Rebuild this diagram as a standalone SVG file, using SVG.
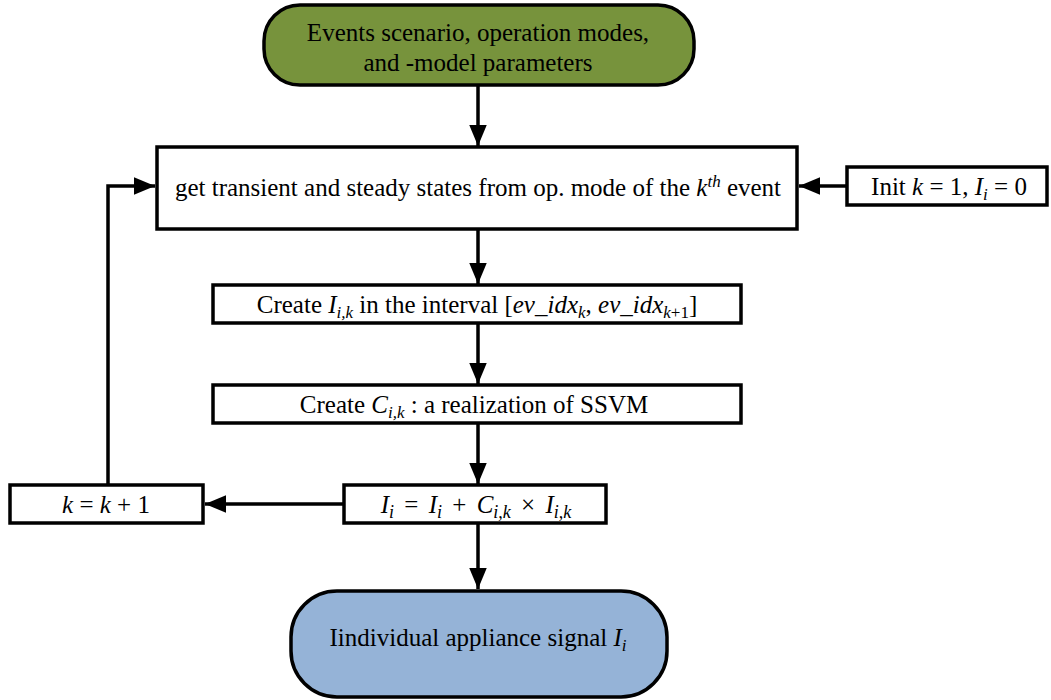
<svg xmlns="http://www.w3.org/2000/svg" width="1051" height="700" viewBox="0 0 1051 700">
<defs>
<marker id="ah" markerWidth="6" markerHeight="5" refX="6" refY="2.5" orient="auto" markerUnits="strokeWidth">
<path d="M0,0 L6,2.5 L0,5 Z" fill="#000"/>
</marker>
<style>
.box{fill:#fff;stroke:#000;stroke-width:3.5}
.t{font-family:"Liberation Serif","Times New Roman",serif;font-size:25px;fill:#000;text-anchor:middle}
.i{font-style:italic}
.s{font-size:17px}
.c{fill:none;stroke:#000;stroke-width:3.5}
</style>
</defs>
<g id="connectors">
<line class="c" x1="478" y1="86" x2="478" y2="146" marker-end="url(#ah)"/>
<line class="c" x1="846" y1="186" x2="799" y2="186" marker-end="url(#ah)"/>
<line class="c" x1="478" y1="230" x2="478" y2="284" marker-end="url(#ah)"/>
<line class="c" x1="478" y1="324" x2="478" y2="384" marker-end="url(#ah)"/>
<line class="c" x1="478" y1="424" x2="478" y2="484" marker-end="url(#ah)"/>
<line class="c" x1="343" y1="504" x2="205" y2="504" marker-end="url(#ah)"/>
<polyline class="c" points="108,485 108,186 155,186" marker-end="url(#ah)"/>
<line class="c" x1="478" y1="524" x2="478" y2="589" marker-end="url(#ah)"/>
</g>
<g id="start">
<rect x="264" y="5" width="430" height="80" rx="36" fill="#77933C" stroke="#000" stroke-width="3.5"/>
<text class="t" x="478" y="41">Events scenario, operation modes,</text>
<text class="t" x="478" y="71">and -model parameters</text>
</g>
<g id="get-states">
<rect class="box" x="157" y="147" width="640" height="82"/>
<text class="t" x="478" y="196">get transient and steady states from op. mode of the <tspan class="i">k</tspan><tspan class="i s" dy="-9">th</tspan><tspan dy="9"> event</tspan></text>
</g>
<g id="init">
<rect class="box" x="847" y="167" width="200" height="38"/>
<text class="t" x="949" y="195">Init <tspan class="i">k</tspan> = 1, <tspan class="i">I</tspan><tspan class="i s" dy="5">i</tspan><tspan dy="-5"> = 0</tspan></text>
</g>
<g id="create-i">
<rect class="box" x="213" y="285" width="528" height="38"/>
<text class="t" x="477" y="313">Create <tspan class="i">I</tspan><tspan class="i s" dy="5">i,k</tspan><tspan dy="-5"> in the interval [</tspan><tspan class="i">ev_idx</tspan><tspan class="i s" dy="5">k</tspan><tspan dy="-5">, </tspan><tspan class="i">ev_idx</tspan><tspan class="s" dy="5"><tspan class="i">k</tspan>+1</tspan><tspan dy="-5">]</tspan></text>
</g>
<g id="create-c">
<rect class="box" x="213" y="385" width="528" height="38"/>
<text class="t" x="474" y="413">Create <tspan class="i">C</tspan><tspan class="i s" dy="5">i,k</tspan><tspan dy="-5"> : a realization  of SSVM</tspan></text>
</g>
<g id="accumulate">
<rect class="box" x="344" y="485" width="262" height="38"/>
<text class="t" x="476" y="513" font-size="27"><tspan class="i">I</tspan><tspan class="i" font-size="18" dy="5">i</tspan><tspan dy="-5" dx="4"> = </tspan><tspan class="i" dx="4">I</tspan><tspan class="i" font-size="18" dy="5">i</tspan><tspan dy="-5" dx="4"> + </tspan><tspan class="i" dx="4">C</tspan><tspan class="i" font-size="18" dy="5">i,k</tspan><tspan dy="-5" dx="4"> × </tspan><tspan class="i" dx="4">I</tspan><tspan class="i" font-size="18" dy="5">i,k</tspan></text>
</g>
<g id="increment">
<rect class="box" x="10" y="485" width="193" height="38"/>
<text class="t" x="106" y="513"><tspan class="i">k</tspan> = <tspan class="i">k</tspan> + 1</text>
</g>
<g id="end">
<rect x="291" y="591" width="376" height="106" rx="46" fill="#95B3D7" stroke="#000" stroke-width="3.5"/>
<text class="t" x="478" y="646">Iindividual appliance signal <tspan class="i">I</tspan><tspan class="i s" dy="5">i</tspan></text>
</g>
</svg>
